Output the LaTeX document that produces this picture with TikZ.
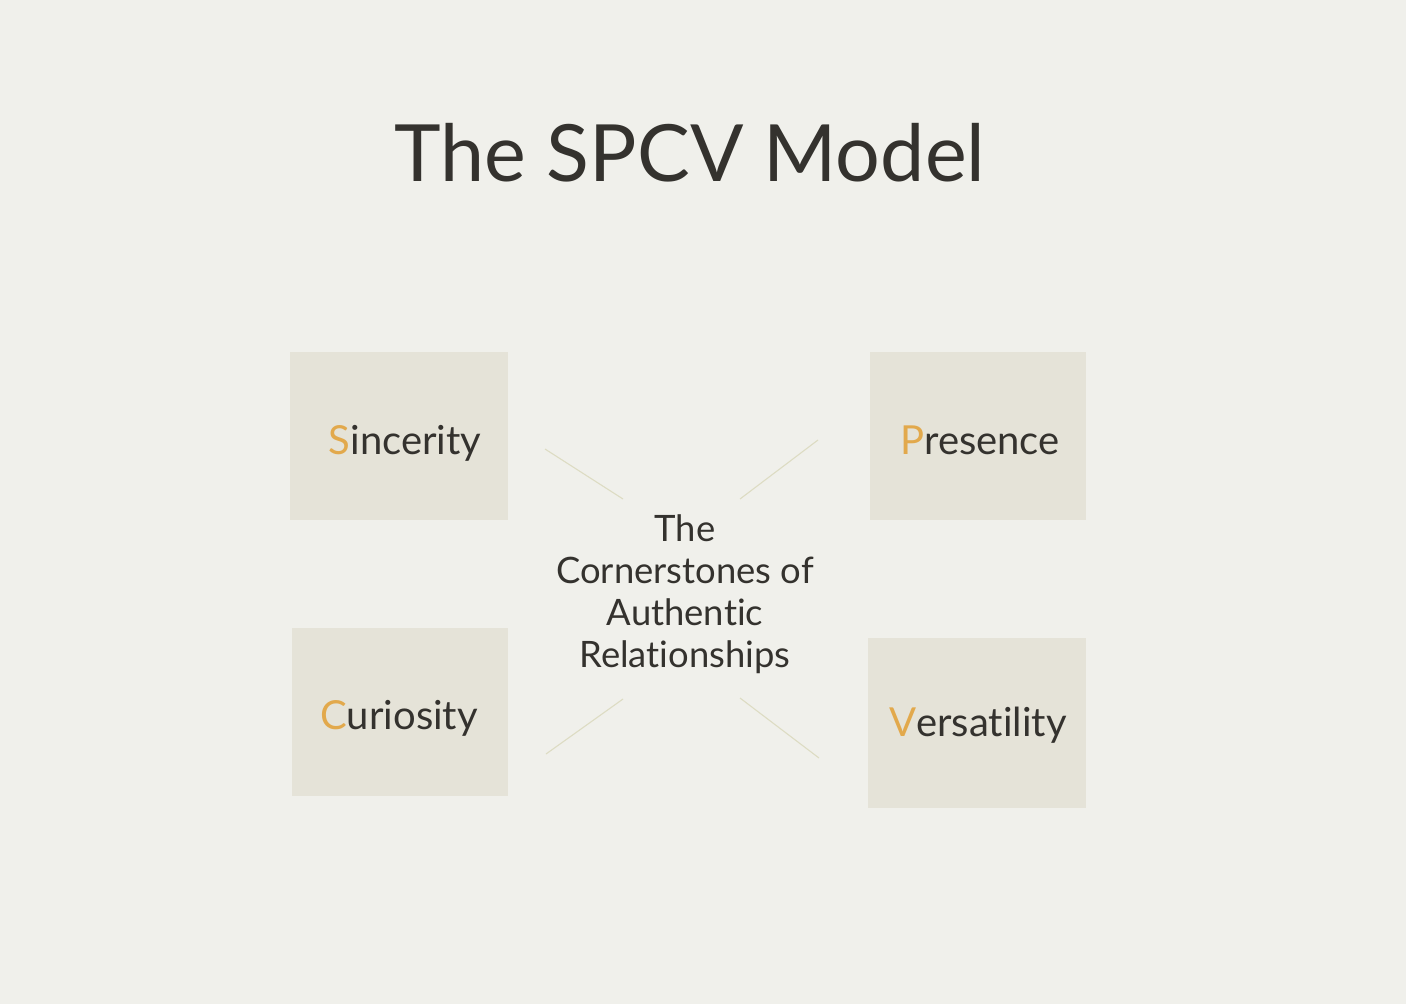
\documentclass[tikz,border=0pt]{standalone}
\usepackage{fontspec}
\setmainfont{Lato}[Ligatures={NoCommon}]
\definecolor{bg}{HTML}{F0F0EB}
\definecolor{boxfill}{HTML}{E5E3D8}
\definecolor{ink}{HTML}{34322E}
\definecolor{accent}{HTML}{E2A94C}
\definecolor{linkc}{HTML}{DDDCC3}
\tikzset{
  pillar/.style={fill=boxfill, draw=none, inner sep=0pt, text=ink,
    font=\fontsize{40}{46}\selectfont},
  link/.style={draw=linkc, line width=1.1pt},
}
\newcommand{\ac}[1]{\textcolor{accent}{#1}}
\begin{document}
\begin{tikzpicture}[x=1pt,y=-1pt]
\fill[bg] (0,0) rectangle (1406,1004);
\useasboundingbox (0,0) rectangle (1406,1004);
\node[text=ink, font=\fontsize{79}{90}\selectfont, anchor=base] (title) at (690,181) {The SPCV Model};
% boxes
\fill[boxfill] (290,352) rectangle (508,520);
\node[pillar, anchor=base] (sin) at (405,454) {\ac{S}incerity};
\fill[boxfill] (870,352) rectangle (1086,520);
\node[pillar, anchor=base] (pre) at (980,454) {\ac{P}resence};
\fill[boxfill] (292,628) rectangle (508,796);
\node[pillar, anchor=base] (cur) at (399,729) {\ac{C}uriosity};
\fill[boxfill] (868,638) rectangle (1086,808);
\node[pillar, anchor=base] (ver) at (978,736) {\ac{V}ersatility};
% center
\node[text=ink, align=center, font=\fontsize{36.4}{42}\selectfont, anchor=base] (center) at (685,667)
  {The\\Cornerstones of\\Authentic\\Relationships};
% connectors
\coordinate (a1) at (545,449); \coordinate (a2) at (623,499);
\coordinate (b1) at (818,440); \coordinate (b2) at (740,499);
\coordinate (c1) at (546,754); \coordinate (c2) at (623,699);
\coordinate (d1) at (819,758); \coordinate (d2) at (740,698);
\draw[link] (a1) -- (a2);
\draw[link] (b1) -- (b2);
\draw[link] (c1) -- (c2);
\draw[link] (d1) -- (d2);
\end{tikzpicture}
\end{document}
